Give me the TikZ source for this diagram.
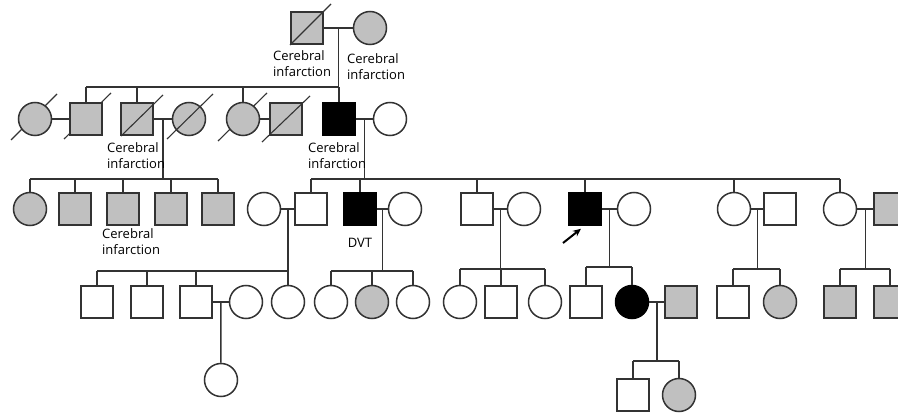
\documentclass[tikz,border=0pt]{standalone}
\usepackage{fontspec}
\setmainfont{Open Sans}
\usetikzlibrary{backgrounds,arrows.meta,calc}
\definecolor{aff}{HTML}{C0C0C0}
\definecolor{edge}{HTML}{333333}
\tikzset{
  sq/.style={rectangle,draw=edge,line width=1.5pt,minimum size=32pt,inner sep=0pt,fill=white},
  ci/.style={circle,draw=edge,line width=1.5pt,minimum size=33pt,inner sep=0pt,fill=white},
  affg/.style={fill=aff},
  blk/.style={fill=black,draw=black},
  ln/.style={draw=edge,line width=1.5pt},
  lbl/.style={font=\fontsize{13}{16}\selectfont,align=left,inner sep=0pt,anchor=north west},
  arrowln/.style={draw=black,line width=2pt,-{Stealth[length=8pt,width=7pt]}},
}
\begin{document}
\begin{tikzpicture}[x=1pt,y=-1pt]
\useasboundingbox (0,0) rectangle (898,414);
\clip (0,0) rectangle (898,414);
% sibship levels
\coordinate (y87) at (0,87);
\coordinate (y179) at (0,179);
\coordinate (y271) at (0,271);
\coordinate (y269) at (0,269);
\coordinate (y267) at (0,267);
\coordinate (y361) at (0,361);
% Generation I
\node[sq,affg] (I1) at (307,28) {};
\node[ci,affg] (I2) at (370,28) {};
% Generation II
\node[ci,affg] (A1) at (35,119) {};
\node[sq,affg] (A2) at (86,119) {};
\node[sq,affg] (A3) at (137,119) {};
\node[ci,affg] (A4) at (189,119) {};
\node[ci,affg] (A5) at (243,119) {};
\node[sq,affg] (A6) at (286,119) {};
\node[sq,blk] (A7) at (339,119) {};
\node[ci] (A8) at (390,119) {};
% Generation III
\node[ci,affg] (B1) at (30,209) {};
\node[sq,affg] (B2) at (75,209) {};
\node[sq,affg] (B3) at (123,209) {};
\node[sq,affg] (B4) at (171,209) {};
\node[sq,affg] (B5) at (218,209) {};
\node[ci] (B6) at (264,209) {};
\node[sq] (B7) at (311,209) {};
\node[sq,blk] (B8) at (360,209) {};
\node[ci] (B9) at (405,209) {};
\node[sq] (B10) at (477,209) {};
\node[ci] (B11) at (524,209) {};
\node[sq,blk] (B12) at (585,209) {};
\node[ci] (B13) at (634,209) {};
\node[ci] (B14) at (734,209) {};
\node[sq] (B15) at (780,209) {};
\node[ci] (B16) at (840,209) {};
\node[sq,affg] (B17) at (890,209) {};
% Generation IV
\node[sq] (C1) at (97,302) {};
\node[sq] (C2) at (147,302) {};
\node[sq] (C3) at (196,302) {};
\node[ci] (C4) at (246,302) {};
\node[ci] (C5) at (288,302) {};
\node[ci] (C6) at (331,302) {};
\node[ci,affg] (C7) at (372,302) {};
\node[ci] (C8) at (413,302) {};
\node[ci] (C9) at (460,302) {};
\node[sq] (C10) at (501,302) {};
\node[ci] (C11) at (545,302) {};
\node[sq] (C12) at (586,302) {};
\node[ci,blk] (C13) at (632,302) {};
\node[sq,affg] (C14) at (681,302) {};
\node[sq] (C15) at (733,302) {};
\node[ci,affg] (C16) at (780,302) {};
\node[sq,affg] (C17) at (840,302) {};
\node[sq,affg] (C18) at (890,302) {};
% Generation V
\node[ci] (V1) at (221,380) {};
\node[sq] (V2) at (633,395) {};
\node[ci,affg] (V3) at (679,395) {};
% slashes behind the symbol
\begin{scope}[on background layer]
\draw[ln,line width=1.1pt] ([shift={(-24,21)}]A1.center) -- ([shift={(22,-25)}]A1.center);
\draw[ln,line width=1.1pt] ([shift={(-22,20)}]A2.center) -- ([shift={(25,-26)}]A2.center);
\draw[ln,line width=1.1pt] ([shift={(-25,22)}]A5.center) -- ([shift={(24,-26)}]A5.center);
\end{scope}
% slashes over the symbol
\draw[ln,line width=1.1pt] ([shift={(-17,17)}]I1.center) -- ([shift={(24,-24)}]I1.center);
\draw[ln,line width=1.1pt] ([shift={(-16,17)}]A3.center) -- ([shift={(26,-24)}]A3.center);
\draw[ln,line width=1.1pt] ([shift={(-22,20)}]A4.center) -- ([shift={(24,-25)}]A4.center);
\draw[ln,line width=1.1pt] ([shift={(-24,23)}]A6.center) -- ([shift={(24,-23)}]A6.center);
% marriage lines and drop points
\draw[ln] (I1.east) -- (I2.west);
\coordinate (m1) at ($(I1.east)!0.5!(I2.west)$);
\draw[ln] (A1.east) -- (A2.west);
\draw[ln] (A3.east) -- (A4.west);
\coordinate (m2) at ($(A3.east)!0.5!(A4.west)$);
\draw[ln] (A5.east) -- (A6.west);
\draw[ln] (A7.east) -- (A8.west);
\coordinate (m3) at ($(A7.east)!0.5!(A8.west)$);
\draw[ln] (B6.east) -- (B7.west);
\coordinate (m4) at ($(B6.east)!0.5!(B7.west)$);
\draw[ln] (B8.east) -- (B9.west);
\coordinate (m5) at ($(B8.east)!0.5!(B9.west)$);
\draw[ln] (B10.east) -- (B11.west);
\coordinate (m6) at ($(B10.east)!0.5!(B11.west)$);
\draw[ln] (B12.east) -- (B13.west);
\coordinate (m7) at ($(B12.east)!0.5!(B13.west)$);
\draw[ln] (B14.east) -- (B15.west);
\coordinate (m8) at ($(B14.east)!0.5!(B15.west)$);
\draw[ln] (B16.east) -- (B17.west);
\coordinate (m9) at ($(B16.east)!0.5!(B17.west)$);
\draw[ln] (C3.east) -- (C4.west);
\coordinate (m10) at ($(C3.east)!0.5!(C4.west)$);
\draw[ln] (C13.east) -- (C14.west);
\coordinate (m11) at ($(C13.east)!0.5!(C14.west)$);
% Generation I -> II
\draw[ln] (m1) -- (m1 |- y87);
\draw[ln] (A2.north |- y87) -- (A7.north |- y87);
\foreach \n in {A2,A3,A5,A7} \draw[ln] (\n.north) -- (\n.north |- y87);
% Generation II -> III
\draw[ln] (m2) -- (m2 |- y179);
\draw[ln] (B1.north |- y179) -- (B5.north |- y179);
\foreach \n in {B1,B2,B3,B4,B5} \draw[ln] (\n.north) -- (\n.north |- y179);
\draw[ln] (m3) -- (m3 |- y179);
\draw[ln] (B7.north |- y179) -- (B16.north |- y179);
\foreach \n in {B7,B8,B10,B12,B14,B16} \draw[ln] (\n.north) -- (\n.north |- y179);
% Generation III -> IV
\draw[ln] (m4) -- (m4 |- y271);
\draw[ln] (C1.north |- y271) -- (C5.north |- y271);
\foreach \n in {C1,C2,C3,C5} \draw[ln] (\n.north) -- (\n.north |- y271);
\draw[ln] (m5) -- (m5 |- y271);
\draw[ln] (C6.north |- y271) -- (C8.north |- y271);
\foreach \n in {C6,C7,C8} \draw[ln] (\n.north) -- (\n.north |- y271);
\draw[ln] (m6) -- (m6 |- y269);
\draw[ln] (C9.north |- y269) -- (C11.north |- y269);
\foreach \n in {C9,C10,C11} \draw[ln] (\n.north) -- (\n.north |- y269);
\draw[ln] (m7) -- (m7 |- y267);
\draw[ln] (C12.north |- y267) -- (C13.north |- y267);
\foreach \n in {C12,C13} \draw[ln] (\n.north) -- (\n.north |- y267);
\draw[ln] (m8) -- (m8 |- y269);
\draw[ln] (C15.north |- y269) -- (C16.north |- y269);
\foreach \n in {C15,C16} \draw[ln] (\n.north) -- (\n.north |- y269);
\draw[ln] (m9) -- (m9 |- y269);
\draw[ln] (C17.north |- y269) -- (C18.north |- y269);
\foreach \n in {C17,C18} \draw[ln] (\n.north) -- (\n.north |- y269);
% Generation IV -> V
\draw[ln] (m10) -- (V1.north);
\draw[ln] (m11) -- (m11 |- y361);
\draw[ln] (V2.north |- y361) -- (V3.north |- y361);
\foreach \n in {V2,V3} \draw[ln] (\n.north) -- (\n.north |- y361);
% labels
\node[lbl] (L1) at (273,50) {Cerebral\\infarction};
\node[lbl] (L2) at (347,53) {Cerebral\\infarction};
\node[lbl] (L3) at (107,142) {Cerebral\\infarction};
\node[lbl] (L4) at (308,142) {Cerebral\\infarction};
\node[lbl] (L5) at (102,228) {Cerebral\\infarction};
\node[font=\fontsize{13}{16}\selectfont,inner sep=0pt] (L6) at (360,243) {DVT};
% proband arrow
\coordinate (arr) at (563,243);
\draw[arrowln] (arr) -- ([shift={(-4,3)}]B12.south);
\end{tikzpicture}
\end{document}
